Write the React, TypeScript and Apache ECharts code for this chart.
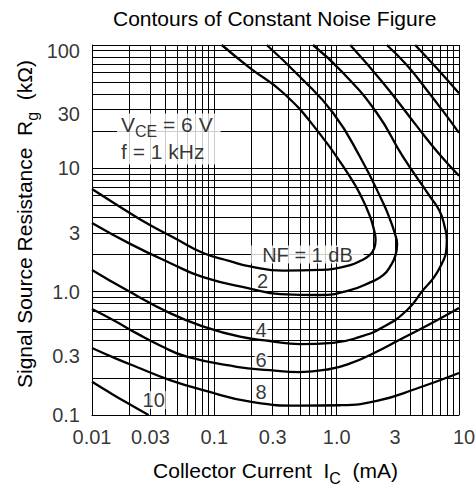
import React, { useEffect, useRef } from 'react';
import * as echarts from 'echarts';

const FONT = '"Liberation Sans", Arial, Helvetica, sans-serif';

const titleText = 'Contours of Constant Noise Figure';
const xAxisName = '{a|Collector Current  I}{s|C}{a|  (mA)}';
const yAxisName = '{a|Signal Source Resistance  R}{s|g}{a|  (kΩ)}';

// Tick labels (values on the log axes, and their printed text)
const xTickValues = [0.01, 0.03, 0.1, 0.3, 1, 3, 10];
const xTickLabels = ['0.01', '0.03', '0.1', '0.3', '1.0', '3', '10'];
const yTickValues = [0.1, 0.3, 1, 3, 10, 30, 100];
const yTickLabels = ['0.1', '0.3', '1.0', '3', '10', '30', '100'];

// Log grid lines
const xGridLines = [
  0.01, 0.02, 0.03, 0.04, 0.05, 0.06, 0.07, 0.08, 0.09,
  0.1, 0.2, 0.3, 0.4, 0.5, 0.6, 0.7, 0.8, 0.9,
  1, 2, 3, 4, 5, 6, 7, 8, 9, 10,
];
const yGridLines = [
  0.1, 0.2, 0.3, 0.4, 0.5, 0.6, 0.7, 0.8, 0.9,
  1, 2, 3, 4, 5, 6, 7, 8, 9,
  10, 20, 30, 40, 50, 60, 70, 80, 90, 100,
];

// Contours: [Ic (mA), Rg (kΩ)]
const nf1 = [
  [0.115, 100], [0.196, 65], [0.365, 41], [0.69, 20.4], [1.29, 8.5], [1.61, 5.74],
  [1.88, 4.03], [2.02, 3.16], [2.08, 2.62], [2.02, 2.22], [1.84, 1.96], [1.55, 1.77],
  [1.29, 1.64], [0.97, 1.54], [0.73, 1.5], [0.365, 1.48], [0.196, 1.6], [0.134, 1.77],
  [0.081, 2.06], [0.048, 2.7], [0.03, 3.45], [0.0186, 4.6], [0.01, 6.8],
];
const nf2 = [
  [0.268, 100], [0.5, 55.3], [0.935, 28.1], [1.55, 12.4], [2.4, 5.23], [2.74, 3.81],
  [2.98, 2.99], [3.12, 2.43], [3.03, 1.98], [2.78, 1.64], [2.4, 1.36], [1.88, 1.19],
  [1.29, 1.03], [0.73, 0.94], [0.345, 0.956], [0.196, 1.06], [0.081, 1.31],
  [0.0434, 1.71], [0.0205, 2.44], [0.01, 3.6],
];
const nf4 = [
  [0.641, 100], [1.13, 59.3], [2.13, 28.1], [3.49, 12.4], [5.8, 5.9], [6.94, 4.5],
  [7.62, 3.4], [7.95, 2.62], [7.84, 2.1], [7.28, 1.71], [6.26, 1.31], [5.09, 1.03],
  [3.77, 0.71], [2.4, 0.516], [1.55, 0.43], [0.935, 0.385], [0.5, 0.376],
  [0.285, 0.398], [0.162, 0.431], [0.084, 0.516], [0.0434, 0.67], [0.0192, 1.03],
  [0.01, 1.5],
];
const nf6Upper = [[1.29, 100], [2.4, 49.2], [4.52, 22], [7.0, 12.8], [10, 8.7]];
const nf6Lower = [
  [0.01, 0.723], [0.0154, 0.578], [0.0232, 0.459], [0.036, 0.366], [0.0595, 0.297],
  [0.1525, 0.246], [0.285, 0.231], [0.5, 0.223], [0.883, 0.236], [1.29, 0.262],
  [2.06, 0.321], [3.24, 0.405], [5.8, 0.546], [10, 0.736],
];
const nf8Upper = [[2.57, 100], [3.74, 68.8], [5.45, 43.2], [7.46, 28.8], [10, 19.4]];
const nf8Lower = [
  [0.01, 0.349], [0.0154, 0.289], [0.0232, 0.245], [0.0434, 0.192], [0.081, 0.159],
  [0.207, 0.127], [0.5, 0.119], [1.07, 0.12], [2.13, 0.13], [4.52, 0.164], [10, 0.219],
];
const nf10Upper = [[4.38, 100], [6.59, 64.7], [10, 40.6]];
const nf10Lower = [[0.01, 0.186], [0.0135, 0.155], [0.0187, 0.128], [0.029, 0.1]];

const curves = [
  { name: 'NF 1 dB', data: nf1 },
  { name: 'NF 2 dB', data: nf2 },
  { name: 'NF 4 dB', data: nf4 },
  { name: 'NF 6 dB (upper)', data: nf6Upper },
  { name: 'NF 6 dB (lower)', data: nf6Lower },
  { name: 'NF 8 dB (upper)', data: nf8Upper },
  { name: 'NF 8 dB (lower)', data: nf8Lower },
  { name: 'NF 10 dB (upper)', data: nf10Upper },
  { name: 'NF 10 dB (lower)', data: nf10Lower },
];

const conditionText = '{a|V}{s|CE}{a| = 6 V}\n{a|f = 1 kHz}';
const nfLabels = ['NF = 1 dB', '2', '4', '6', '8', '10'];

export default function App() {
  const ref = useRef<HTMLDivElement>(null);

  useEffect(() => {
    if (!ref.current) return;
    const chart = echarts.init(ref.current, undefined, { renderer: 'svg' });

    const nameRich = {
      a: { fontSize: 21, lineHeight: 26, verticalAlign: 'top', color: '#000', fontFamily: FONT },
      s: { fontSize: 16, lineHeight: 26, verticalAlign: 'top', padding: [10, 0, 0, 0], color: '#000', fontFamily: FONT },
    };

    const xNudge: Record<string, number> = { '10': 5 };
    const yNudge: Record<string, number> = { '100': 6, '30': 5 };

    const baseAnno = {
      show: true,
      position: 'inside',
      color: '#000',
      fontSize: 20,
      fontFamily: FONT,
      lineHeight: 18,
      backgroundColor: '#fff',
      padding: [0, 1],
    };

    const annoPositions = [
      [0.2, 2],
      [0.248, 1.23],
      [0.241, 0.491],
      [0.241, 0.279],
      [0.241, 0.154],
      [0.0319, 0.132],
    ];

    const option: any = {
      animation: false,
      backgroundColor: '#fff',
      title: {
        text: titleText,
        left: 113,
        top: 8,
        padding: 0,
        textStyle: { fontSize: 21, fontWeight: 'normal', color: '#000', fontFamily: FONT, lineHeight: 21 },
      },
      grid: { left: 92, right: 17, top: 45, bottom: 76, containLabel: false, outerBoundsMode: 'none' },
      xAxis: {
        type: 'log',
        logBase: 10,
        min: 0.01,
        max: 10,
        name: xAxisName,
        nameLocation: 'middle',
        nameGap: 45,
        nameTextStyle: { rich: nameRich, fontFamily: FONT },
        axisLine: { show: true, lineStyle: { color: '#000', width: 1 } },
        axisTick: { show: false },
        axisLabel: { show: false },
        splitLine: { show: false },
        minorTick: { show: false },
        minorSplitLine: { show: false },
      },
      yAxis: {
        type: 'log',
        logBase: 10,
        min: 0.1,
        max: 100,
        name: yAxisName,
        nameLocation: 'middle',
        nameGap: 52,
        nameTextStyle: { rich: nameRich, fontFamily: FONT, padding: [0, 0, 0, 12] },
        axisLine: { show: true, lineStyle: { color: '#000', width: 1 } },
        axisTick: { show: false },
        axisLabel: { show: false },
        splitLine: { show: false },
        minorTick: { show: false },
        minorSplitLine: { show: false },
      },
      series: [
        {
          name: 'grid',
          type: 'line',
          z: 1,
          silent: true,
          data: [[0.01, 0.1]],
          showSymbol: false,
          symbol: 'none',
          lineStyle: { width: 0 },
          markLine: {
            z: 1,
            silent: true,
            symbol: ['none', 'none'],
            label: { show: false },
            emphasis: { disabled: true },
            lineStyle: { color: '#000', width: 1, type: 'solid' },
            data: [
              ...xGridLines.map((v) => ({ xAxis: v })),
              ...yGridLines.map((v) => ({ yAxis: v })),
            ],
          },
        },
        {
          name: 'x tick labels',
          type: 'scatter',
          z: 2,
          silent: true,
          clip: false,
          symbolSize: 0,
          itemStyle: { color: 'transparent' },
          data: xTickValues.map((v, i) => ({
            value: [v, 0.1],
            name: xTickLabels[i],
            label: { offset: [xNudge[xTickLabels[i]] || 0, 0] },
          })),
          label: {
            show: true,
            position: 'bottom',
            distance: 12,
            formatter: '{b}',
            color: '#000',
            fontSize: 20,
            fontFamily: FONT,
          },
        },
        {
          name: 'y tick labels',
          type: 'scatter',
          z: 2,
          silent: true,
          clip: false,
          symbolSize: 0,
          itemStyle: { color: 'transparent' },
          data: yTickValues.map((v, i) => ({
            value: [0.01, v],
            name: yTickLabels[i],
            label: { offset: [0, yNudge[yTickLabels[i]] || 0] },
          })),
          label: {
            show: true,
            position: 'left',
            distance: 12,
            formatter: '{b}',
            color: '#000',
            fontSize: 20,
            fontFamily: FONT,
          },
        },
        {
          name: 'annotations',
          type: 'scatter',
          z: 2,
          silent: true,
          clip: false,
          symbolSize: 0,
          itemStyle: { color: 'transparent' },
          label: baseAnno,
          data: [
            {
              value: [0.016, 17.3],
              label: {
                ...baseAnno,
                position: 'right',
                distance: 0,
                formatter: conditionText,
                padding: [1, 8, 0, 4],
                lineHeight: undefined,
                rich: {
                  a: { fontSize: 21, lineHeight: 23, verticalAlign: 'top', color: '#000', fontFamily: FONT },
                  s: { fontSize: 16, lineHeight: 27, verticalAlign: 'top', padding: [9, 0, 0, 0], color: '#000', fontFamily: FONT },
                },
              },
            },
            ...nfLabels.map((t, i) => ({
              value: annoPositions[i],
              label:
                i === 0
                  ? { ...baseAnno, position: 'right', distance: 0, formatter: t, padding: [0, 11] }
                  : { ...baseAnno, formatter: t },
            })),
          ],
        },
        ...curves.map((c) => ({
          name: c.name,
          type: 'line',
          z: 3,
          silent: true,
          smooth: 0.5,
          symbol: 'none',
          showSymbol: false,
          lineStyle: { color: '#000', width: 2.3 },
          data: c.data,
        })),
      ],
    };

    chart.setOption(option);
    return () => chart.dispose();
  }, []);

  return (
    <div
      ref={ref}
      style={{ position: 'fixed', left: 0, top: 0, width: 476, height: 491, background: '#fff' }}
    />
  );
}
